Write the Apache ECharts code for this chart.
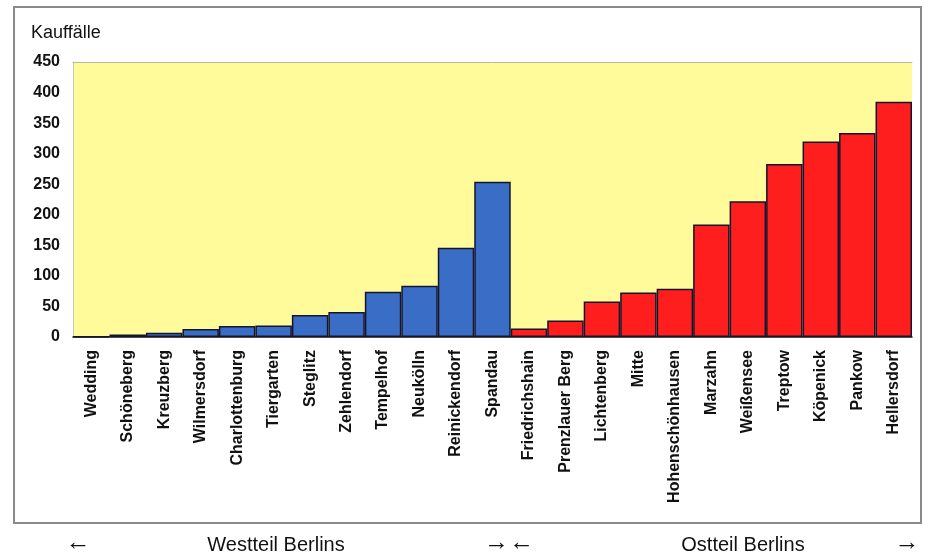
<!DOCTYPE html>
<html>
<head>
<meta charset="utf-8">
<script src="https://cdn.jsdelivr.net/npm/echarts@6/dist/echarts.min.js"></script>
<style>
  html, body { margin: 0; padding: 0; background: #ffffff; }
  #chart { width: 928px; height: 555px; }
</style>
</head>
<body>
<div id="chart"></div>
<script>
// Bezirke, sortiert nach Kauffällen
const westDistricts = ['Wedding', 'Schöneberg', 'Kreuzberg', 'Wilmersdorf', 'Charlottenburg', 'Tiergarten',
  'Steglitz', 'Zehlendorf', 'Tempelhof', 'Neukölln', 'Reinickendorf', 'Spandau'];
const eastDistricts = ['Friedrichshain', 'Prenzlauer Berg', 'Lichtenberg', 'Mitte', 'Hohenschönhausen',
  'Marzahn', 'Weißensee', 'Treptow', 'Köpenick', 'Pankow', 'Hellersdorf'];

const westValues = [1, 4, 7, 13, 18, 19, 36, 41, 74, 84, 146, 254];
const eastValues = [14, 27, 58, 73, 79, 184, 222, 283, 320, 334, 385];

const yTicks = { min: 0, max: 450, interval: 50 };
const yAxisTitle = 'Kauffälle';
const westLabel = 'Westteil Berlins';
const eastLabel = 'Ostteil Berlins';

const categories = westDistricts.concat(eastDistricts);
const westSeries = westValues.concat(eastDistricts.map(() => null));
const eastSeries = westDistricts.map(() => null).concat(eastValues);

const FONT = '"Liberation Sans", Arial, Helvetica, sans-serif';

const chart = echarts.init(document.getElementById('chart'), null, { renderer: 'canvas' });

const barBorder = { borderColor: '#14142e', borderWidth: 1.5 };

chart.setOption({
  animation: false,
  backgroundColor: '#ffffff',
  grid: {
    left: 73, right: 16, top: 62, bottom: 218,
    show: true, backgroundColor: '#fffb9a', borderWidth: 0
  },
  xAxis: [{
    type: 'category',
    data: categories,
    axisLine: { show: true, lineStyle: { color: '#111111', width: 1.5 } },
    axisTick: { show: false },
    axisLabel: {
      interval: 0, rotate: 90, margin: 13,
      fontFamily: FONT, fontWeight: 'bold', fontSize: 16, color: '#111111'
    }
  }, {
    type: 'category',
    data: categories,
    position: 'top',
    axisLine: { show: true, lineStyle: { color: '#b8b8a8', width: 1 } },
    axisTick: { show: false },
    axisLabel: { show: false }
  }],
  yAxis: {
    type: 'value',
    min: yTicks.min, max: yTicks.max, interval: yTicks.interval,
    axisLine: { show: true, lineStyle: { color: '#c8c8b8', width: 1 } },
    axisTick: { show: false },
    splitLine: { show: false },
    axisLabel: {
      margin: 13, fontFamily: FONT, fontWeight: 'bold', fontSize: 16, color: '#111111'
    }
  },
  series: [{
    name: westLabel,
    type: 'bar',
    stack: 'bezirke',
    data: westSeries,
    barCategoryGap: '0%',
    itemStyle: Object.assign({ color: '#3a6ec6' }, barBorder)
  }, {
    name: eastLabel,
    type: 'bar',
    stack: 'bezirke',
    data: eastSeries,
    barCategoryGap: '0%',
    itemStyle: Object.assign({ color: '#ff1e1e' }, barBorder)
  }],
  graphic: [
    {
      type: 'rect', z: -1,
      shape: { x: 14, y: 7, width: 907, height: 516 },
      style: { fill: 'none', stroke: '#8a8a8a', lineWidth: 2 }
    },
    {
      type: 'text', left: 31, top: 24,
      style: { text: yAxisTitle, font: '18px ' + FONT, fill: '#111111' }
    },
    {
      type: 'text', x: 78, y: 543,
      style: { text: '←', font: '25px ' + FONT, fill: '#111111', align: 'center', verticalAlign: 'middle' }
    },
    {
      type: 'text', x: 276, y: 545,
      style: { text: westLabel, font: '20px ' + FONT, fill: '#111111', align: 'center', verticalAlign: 'middle' }
    },
    {
      type: 'text', x: 509, y: 543,
      style: { text: '→←', font: '25px ' + FONT, fill: '#111111', align: 'center', verticalAlign: 'middle' }
    },
    {
      type: 'text', x: 743, y: 545,
      style: { text: eastLabel, font: '20px ' + FONT, fill: '#111111', align: 'center', verticalAlign: 'middle' }
    },
    {
      type: 'text', x: 907, y: 543,
      style: { text: '→', font: '25px ' + FONT, fill: '#111111', align: 'center', verticalAlign: 'middle' }
    }
  ]
});
</script>
</body>
</html>
